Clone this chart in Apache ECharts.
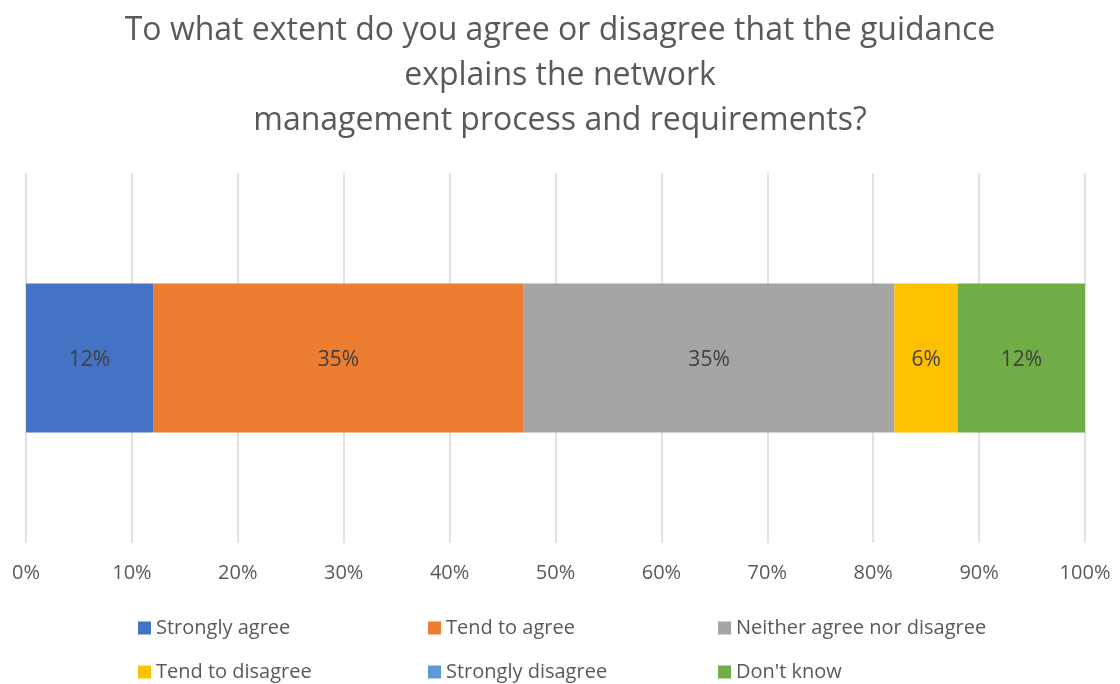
<!DOCTYPE html>
<html>
<head>
<meta charset="utf-8">
<script src="https://cdn.jsdelivr.net/npm/echarts@6/dist/echarts.min.js"></script>
<style>
  html, body { margin: 0; padding: 0; background: #fff; }
  #chart { width: 1120px; height: 684px; }
</style>
</head>
<body>
<div id="chart"></div>
<script>
// Survey responses: one stacked 100% bar
const categories = ['Response'];
const seriesNames = ['Strongly agree', 'Tend to agree', 'Neither agree nor disagree',
                     'Tend to disagree', 'Strongly disagree', "Don't know"];
const seriesValues = [12, 35, 35, 6, 0, 12];
const seriesColors = ['#4472C4', '#ED7D31', '#A5A5A5', '#FFC000', '#5B9BD5', '#70AD47'];
const tickValues = [0, 10, 20, 30, 40, 50, 60, 70, 80, 90, 100];

const FONT = '"Open Sans", "Liberation Sans", sans-serif';

const chart = echarts.init(document.getElementById('chart'), null, { renderer: 'canvas' });

const series = seriesNames.map((name, i) => ({
  name: name,
  type: 'bar',
  stack: 'total',
  barWidth: 149,
  itemStyle: { color: seriesColors[i] },
  label: {
    show: true,
    position: 'inside',
    offset: [0, 2],
    color: '#404040',
    fontSize: 21,
    fontFamily: FONT,
    formatter: p => (p.value > 0 ? p.value + '%' : '')
  },
  emphasis: { disabled: true },
  data: [seriesValues[i]]
}));

const legendCommon = {
  orient: 'horizontal',
  itemWidth: 13,
  itemHeight: 13,
  itemGap: 0,
  padding: 0,
  icon: 'rect',
  selectedMode: false,
  textStyle: { color: '#595959', fontSize: 20, fontFamily: FONT, width: 272, lineHeight: 24 }
};

chart.setOption({
  animation: false,
  backgroundColor: '#ffffff',
  title: {
    text: 'To what extent do you agree or disagree that the guidance\nexplains the network\nmanagement process and requirements?',
    left: 'center',
    top: 3,
    textStyle: { color: '#595959', fontSize: 32, fontWeight: 'normal', fontFamily: FONT, lineHeight: 45 }
  },
  legend: [
    Object.assign({ data: seriesNames.slice(0, 3), left: 138, top: 616 }, legendCommon),
    Object.assign({ data: seriesNames.slice(3, 6), left: 138, top: 660 }, legendCommon)
  ],
  grid: { left: 26, right: 35, top: 173, bottom: 141, containLabel: false },
  xAxis: {
    type: 'value',
    min: tickValues[0],
    max: tickValues[tickValues.length - 1],
    interval: tickValues[1] - tickValues[0],
    axisLine: { show: false },
    axisTick: { show: false },
    splitLine: { show: true, lineStyle: { color: '#D9D9D9', width: 1.5 } },
    axisLabel: { formatter: '{value}%', color: '#595959', fontSize: 20, fontFamily: FONT, margin: 20 }
  },
  yAxis: {
    type: 'category',
    data: categories,
    axisLine: { show: false },
    axisTick: { show: false },
    axisLabel: { show: false }
  },
  series: series
});
</script>
</body>
</html>
